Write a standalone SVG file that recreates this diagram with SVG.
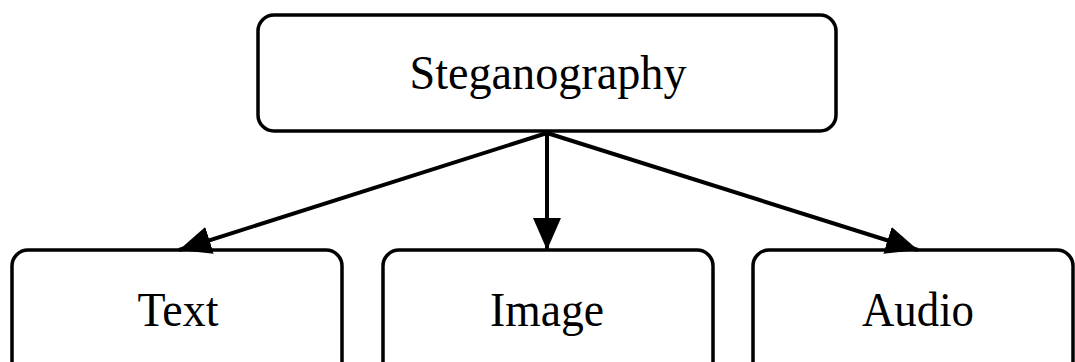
<svg xmlns="http://www.w3.org/2000/svg" width="1075" height="362" viewBox="0 0 1075 362">
<style>
.box{fill:#fff;stroke:#000;stroke-width:3.5}
.lbl{font-family:"Liberation Serif","Times New Roman",serif;font-size:48px;fill:#000;text-anchor:middle}
.edge{stroke:#000;stroke-width:4;fill:none}
</style>
<defs>
<marker id="ah" markerUnits="userSpaceOnUse" markerWidth="32" markerHeight="28" refX="32" refY="14" orient="auto">
<path d="M0,0 L32,14 L0,28 Z" fill="#000"/>
</marker>
</defs>
<rect width="1075" height="362" fill="#fff"/>
<g id="n-steg"><rect class="box" x="258" y="15" width="578" height="116" rx="16"/><text class="lbl" x="548" y="89" textLength="277" lengthAdjust="spacingAndGlyphs">Steganography</text></g>
<g id="n-text"><rect class="box" x="12" y="250" width="330" height="130" rx="16"/><text class="lbl" x="178" y="326" textLength="81" lengthAdjust="spacingAndGlyphs">Text</text></g>
<g id="n-image"><rect class="box" x="383" y="250" width="330" height="130" rx="16"/><text class="lbl" x="547" y="326" textLength="114" lengthAdjust="spacingAndGlyphs">Image</text></g>
<g id="n-audio"><rect class="box" x="753" y="250" width="320" height="130" rx="16"/><text class="lbl" x="918" y="326" textLength="112" lengthAdjust="spacingAndGlyphs">Audio</text></g>
<g id="edges">
<line class="edge" x1="547" y1="133" x2="179" y2="250" marker-end="url(#ah)"/>
<line class="edge" x1="547" y1="133" x2="547" y2="250" marker-end="url(#ah)"/>
<line class="edge" x1="547" y1="133" x2="918" y2="250" marker-end="url(#ah)"/>
</g>
</svg>
